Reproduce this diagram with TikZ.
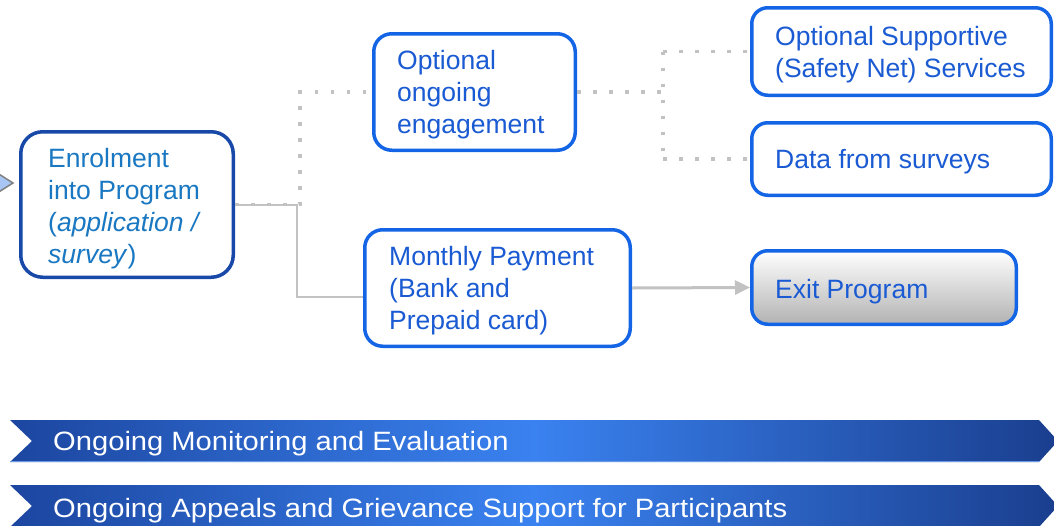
\documentclass[tikz,border=0pt]{standalone}
\usepackage{fontspec}
\setmainfont{Liberation Sans}
\newfontfamily\bannerfont[FakeStretch=1.1]{Liberation Sans}
\usetikzlibrary{arrows.meta}
\definecolor{darkborder}{HTML}{1848A8}
\definecolor{enroltext}{HTML}{1A78C2}
\definecolor{brightborder}{HTML}{1464E6}
\definecolor{boxtext}{HTML}{1A5AD2}
\definecolor{conngray}{HTML}{C2C2C2}
\definecolor{banleft}{HTML}{1C46A0}
\definecolor{banmid}{HTML}{3A82F0}
\definecolor{banright}{HTML}{1A3E8E}
\definecolor{banline}{HTML}{6A9AE6}
\definecolor{arrowfill}{HTML}{A8C6F5}
\tikzset{
  box/.style={draw=brightborder, line width=3.5pt, rounded corners=18pt, inner sep=0pt, fill=white},
  enrolbox/.style={box, draw=darkborder, rounded corners=22pt},
  txt/.style={inner sep=0pt, anchor=base west, align=left, text=boxtext,
     font=\fontsize{26.5}{32}\selectfont},
  dotc/.style={draw=conngray, line width=3.5pt, dash pattern=on 3.5pt off 12.5pt},
  solidc/.style={draw=conngray, line width=2pt},
  arrowc/.style={draw=conngray, line width=3pt, -{Triangle[length=15pt,width=14pt]}},
  bantext/.style={inner sep=0pt, anchor=base west, text=white,
     font=\bannerfont\fontsize{26.5}{32}\selectfont},
  banner/.style={left color=banleft, right color=banright, middle color=banmid}
}
\begin{document}
\begin{tikzpicture}[x=1pt,y=-1pt]
\useasboundingbox (0,0) rectangle (1054,525);
\clip (0,0) rectangle (1054,525);
% left incoming arrow tip
\draw[fill=arrowfill, draw=gray, line width=1.5pt] (-6,171) -- (13,183) -- (-6,195) -- cycle;
% boxes
\node[enrolbox, minimum width=212.5pt, minimum height=145.5pt] (enrol) at (127,204.5) {};
\node[box, minimum width=201.5pt, minimum height=116.5pt] (opt) at (474.5,92) {};
\node[box, minimum width=265.5pt, minimum height=116.5pt] (pay) at (497.5,288) {};
\node[box, rounded corners=16pt, minimum width=299.5pt, minimum height=87.5pt] (safety) at (901.5,51.5) {};
\node[box, rounded corners=16pt, minimum width=299.5pt, minimum height=72.5pt] (data) at (901.5,159) {};
\node[box, rounded corners=16pt, minimum width=264.5pt, minimum height=73.5pt, top color=white, bottom color=black!30] (exit) at (884,287.5) {};
% texts (anchored at the baseline of the last line)
\node[txt, text=enroltext] (enrolt) at (48,263) {Enrolment\\into Program\\(\textit{application /}\\\textit{survey})};
\node[txt] (optt) at (397,133) {Optional\\ongoing\\engagement};
\node[txt] (payt) at (389,329) {Monthly Payment\\(Bank and\\Prepaid card)};
\node[txt] (safetyt) at (775,77) {Optional Supportive\\(Safety Net) Services};
\node[txt] (datat) at (775,168) {Data from surveys};
\node[txt] (exitt) at (775,298) {Exit Program};
% connectors
\coordinate (j1) at (297,204.5);
\coordinate (j2) at (297,297);
\coordinate (d1) at (300,204.5);
\coordinate (d2) at (300,92);
\coordinate (e1) at (663,92);
\coordinate (e2) at (663,51.5);
\coordinate (e3) at (663,159);
\draw[solidc] (enrol.east) -- (j1) -- (j2) -- (j2 -| pay.west);
\draw[dotc] (enrol.east) -- (d1) -- (d2) -- (opt.west);
\draw[dotc] (opt.east) -- (e1);
\draw[dotc] (e2) -- (e3);
\draw[dotc] (e2) -- (safety.west);
\draw[dotc] (e3) -- (data.west);
\draw[arrowc] (pay.east) -- (exit.west);
% banners
\shade[banner] (10,420) -- (1039,420) -- (1058,441) -- (1039,462) -- (10,462) -- (32,441) -- cycle;
\draw[banline, line width=1pt] (10,461.5) -- (1039,461.5);
\node[bantext] (ban1) at (53,450) {Ongoing Monitoring and Evaluation};
\shade[banner] (10,485) -- (1039,485) -- (1058,506) -- (1039,527) -- (10,527) -- (32,506) -- cycle;
\node[bantext] (ban2) at (53,517) {Ongoing Appeals and Grievance Support for Participants};
\end{tikzpicture}
\end{document}
